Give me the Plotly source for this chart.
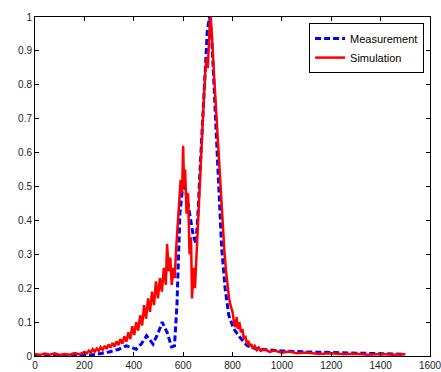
import plotly.graph_objects as go

# Measurement (blue dashed)
meas_x = [0, 100, 200, 250, 300, 340, 370, 390, 410, 430, 452, 478, 500, 515, 535, 553, 565,
          575, 587, 597, 606, 615, 628, 640, 652, 660, 670, 685, 698, 707, 715, 725, 740,
          756, 770, 785, 805, 830, 860, 900, 950, 1000, 1100, 1200, 1300, 1400, 1500]
meas_y = [0, 0, 0.002, 0.005, 0.012, 0.02, 0.03, 0.025, 0.02, 0.035, 0.06, 0.035, 0.07, 0.1,
          0.07, 0.027, 0.03, 0.15, 0.42, 0.49, 0.5, 0.47, 0.41, 0.36, 0.33, 0.42, 0.57, 0.8,
          0.96, 1.0, 0.95, 0.8, 0.55, 0.32, 0.2, 0.12, 0.08, 0.055, 0.03, 0.02, 0.018, 0.015,
          0.012, 0.01, 0.008, 0.006, 0.005]

# Simulation (red, noisy)
sim_x = [0, 20, 40, 60, 80, 100, 120, 140, 160, 180, 200,
         210, 218, 226, 234, 242, 250, 258, 266, 274, 282, 290, 298, 306, 314, 322, 330, 338,
         346, 354, 362, 370, 378, 386, 394, 402, 410, 418, 426, 434, 442, 450, 458, 466, 474,
         482, 490, 498, 506, 514, 522, 530, 535, 542, 548, 554, 560, 566, 572, 578, 584, 590,
         596, 600, 604, 608, 614, 620, 626, 632, 636, 642, 648, 654, 660, 666, 672, 678, 684,
         690, 696, 700, 704, 708, 712, 716, 720, 726, 732, 738, 744, 750, 756, 762, 768, 774,
         780, 786, 792, 800, 806, 812, 817, 822, 828, 834, 840, 846, 852, 858, 864, 870, 876,
         882, 890, 898, 906, 914, 930, 950, 970, 1000, 1030, 1060, 1100, 1150, 1200, 1250,
         1300, 1350, 1400, 1450, 1500]
sim_y = [0.006, 0.003, 0.007, 0.004, 0.008, 0.003, 0.006, 0.004, 0.009, 0.005, 0.012,
         0.008, 0.016, 0.01, 0.02, 0.013, 0.022, 0.015, 0.026, 0.018, 0.03, 0.021, 0.034,
         0.025, 0.038, 0.028, 0.043, 0.032, 0.05, 0.036, 0.058, 0.042, 0.07, 0.05, 0.088,
         0.062, 0.1, 0.075, 0.12, 0.09, 0.15, 0.11, 0.17, 0.13, 0.19, 0.15, 0.22, 0.17, 0.23,
         0.19, 0.26, 0.21, 0.33, 0.25, 0.29, 0.21, 0.26, 0.23, 0.32, 0.38, 0.45, 0.52, 0.48,
         0.62, 0.5, 0.55, 0.42, 0.48, 0.3, 0.35, 0.17, 0.26, 0.2, 0.3, 0.38, 0.47, 0.56, 0.66,
         0.76, 0.84, 0.88, 0.85, 0.92, 0.98, 1.0, 0.93, 0.9, 0.82, 0.74, 0.67, 0.6, 0.5, 0.42,
         0.35, 0.3, 0.25, 0.2, 0.17, 0.15, 0.13, 0.1, 0.085, 0.115, 0.08, 0.1, 0.07, 0.08,
         0.05, 0.06, 0.035, 0.045, 0.03, 0.035, 0.022, 0.03, 0.018, 0.025, 0.015, 0.02, 0.012,
         0.016, 0.01, 0.013, 0.008, 0.01, 0.006, 0.008, 0.005, 0.007, 0.004, 0.006, 0.004,
         0.005]

x_ticks = [0, 200, 400, 600, 800, 1000, 1200, 1400, 1600]
y_ticks = [0, 0.1, 0.2, 0.3, 0.4, 0.5, 0.6, 0.7, 0.8, 0.9, 1]
y_tick_text = ["0", "0.1", "0.2", "0.3", "0.4", "0.5", "0.6", "0.7", "0.8", "0.9", "1"]

fig = go.Figure()
fig.add_trace(go.Scatter(x=meas_x, y=meas_y, mode="lines", name="Measurement",
                         line=dict(color="#0000ff", width=3, dash="6px,3px")))
fig.add_trace(go.Scatter(x=sim_x, y=sim_y, mode="lines", name="Simulation",
                         line=dict(color="#ff0000", width=2.5)))

axis_common = dict(showgrid=False, zeroline=False, showline=True, linecolor="#000",
                   linewidth=1, mirror="ticks", ticks="inside", ticklen=4,
                   tickcolor="#000", automargin=False, ticklabeloverflow="allow",
                   tickfont=dict(family="Liberation Sans, Arial", size=10, color="#222"))
fig.update_xaxes(range=[0, 1600], tickvals=x_ticks, **axis_common)
fig.update_yaxes(range=[0, 1], tickvals=y_ticks, ticktext=y_tick_text, **axis_common)

fig.update_layout(
    width=441, height=372,
    margin=dict(l=35, r=11, t=17, b=16),
    paper_bgcolor="white", plot_bgcolor="white",
    showlegend=True,
    legend=dict(x=0.985, y=0.982, xanchor="right", yanchor="top",
                bgcolor="white", bordercolor="#000", borderwidth=1,
                font=dict(family="Liberation Sans, Arial", size=11, color="#000"),
                tracegroupgap=0, itemwidth=30),
)

fig.write_html("out.html", config={"displayModeBar": False},
               post_script="document.body.style.margin='0';document.body.style.padding='0';")
